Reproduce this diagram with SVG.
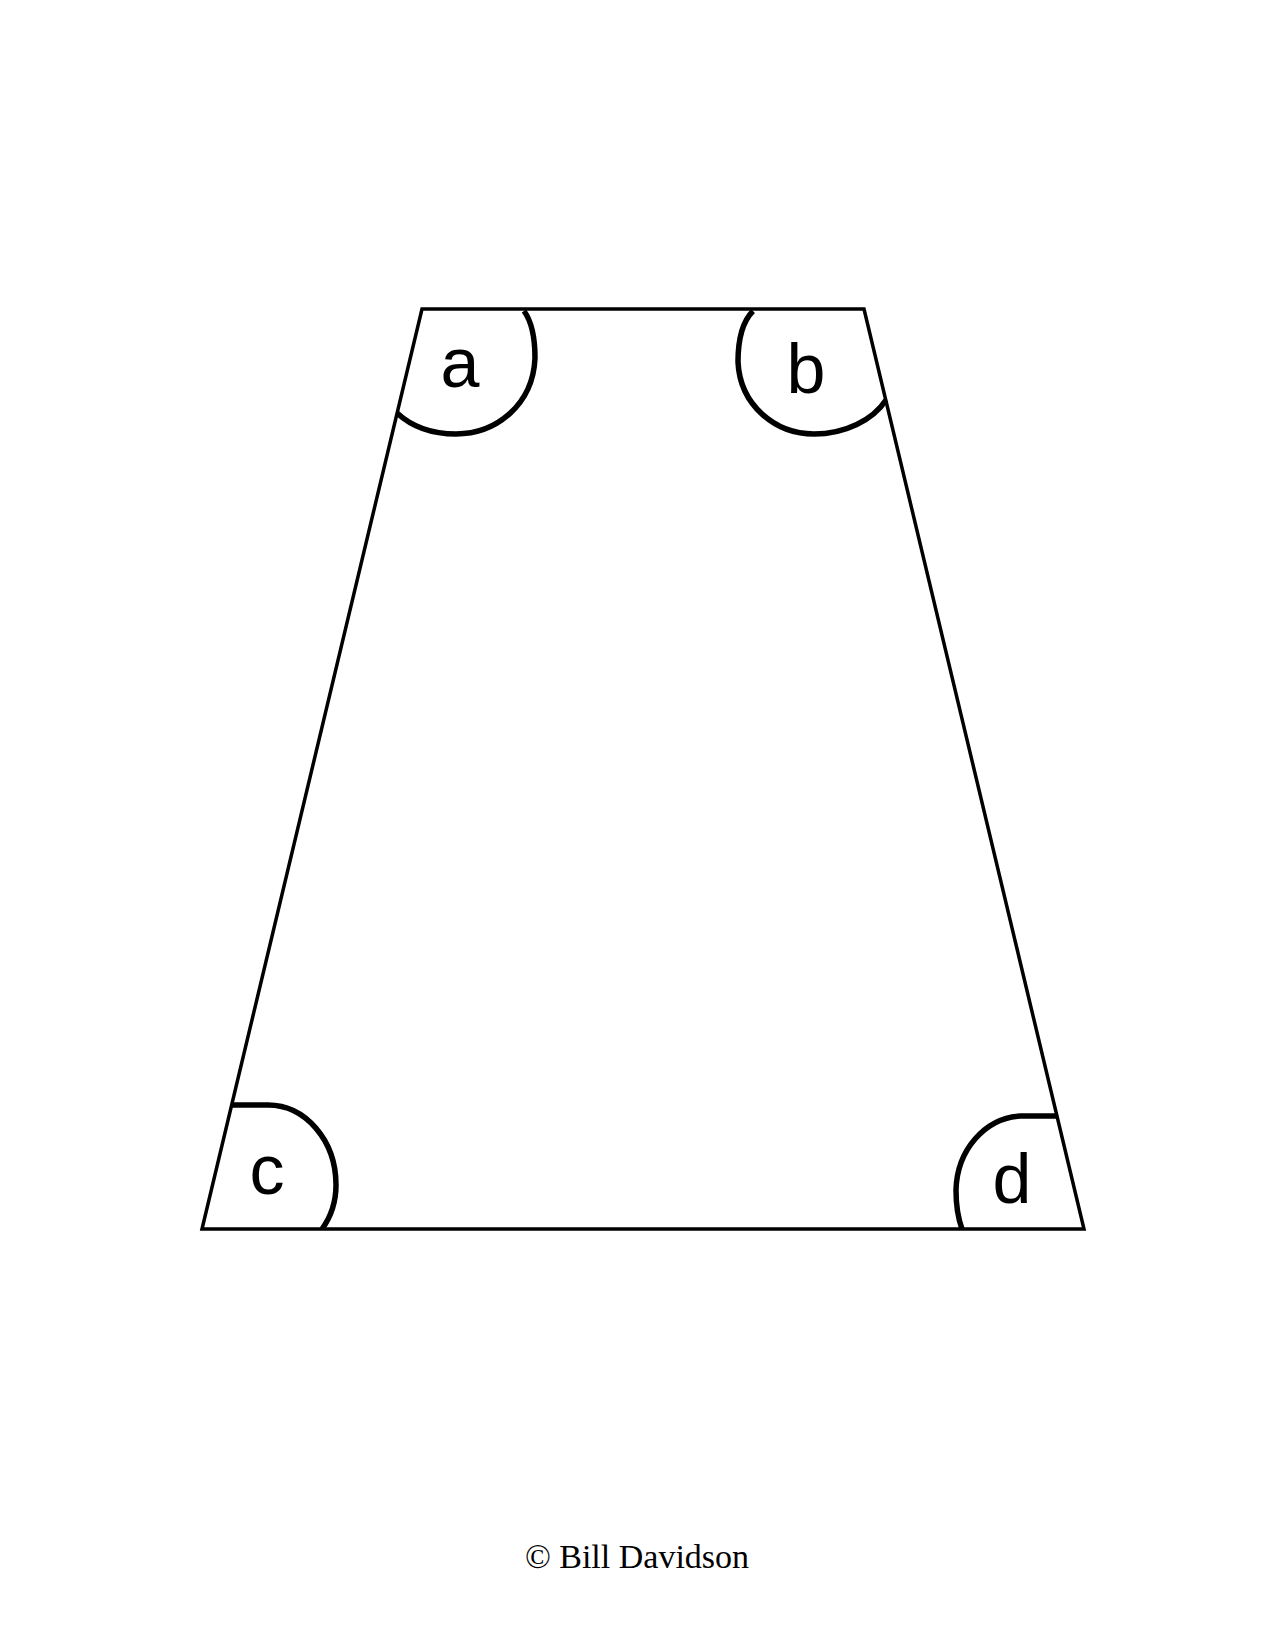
<svg xmlns="http://www.w3.org/2000/svg" width="1275" height="1650" viewBox="0 0 1275 1650">
<style>
.edge{fill:none;stroke:#000;stroke-width:3.5;stroke-linejoin:miter}
.arc{fill:none;stroke:#000;stroke-width:5.5;stroke-linecap:butt}
.lbl{font-family:"Liberation Sans",Arial,sans-serif;font-size:70px;fill:#000;text-anchor:middle}
.copy{font-family:"Liberation Serif","Times New Roman",serif;font-size:34px;fill:#000;text-anchor:middle}
</style>
<rect width="1275" height="1650" fill="#fff"/>
<g id="trapezoid">
<polygon class="edge" points="422,309 864,309 1084,1229 202,1229"/>
</g>
<g id="angle-a">
<path class="arc" d="M524,311 C532,322 535,338 535,358 C533,405 496,434 456,434 C430,434 410,425 397,413"/>
<text class="lbl" x="460" y="387">a</text>
</g>
<g id="angle-b">
<path class="arc" d="M753,311 C742,322 738,342 738,362 C740,405 775,434 814,434 C845,434 873,420 886,400"/>
<text class="lbl" x="806" y="393">b</text>
</g>
<g id="angle-c">
<path class="arc" d="M232,1105 L268,1105 C305,1105 336,1140 336,1185 C336,1205 330,1218 322,1229"/>
<text class="lbl" x="267" y="1194">c</text>
</g>
<g id="angle-d">
<path class="arc" d="M1058,1116 L1020,1116 C985,1118 957,1150 956,1190 C956,1205 958,1218 962,1229"/>
<text class="lbl" x="1012" y="1203">d</text>
</g>
<g id="connectors"></g>
<text class="copy" x="637" y="1568">© Bill Davidson</text>
</svg>
